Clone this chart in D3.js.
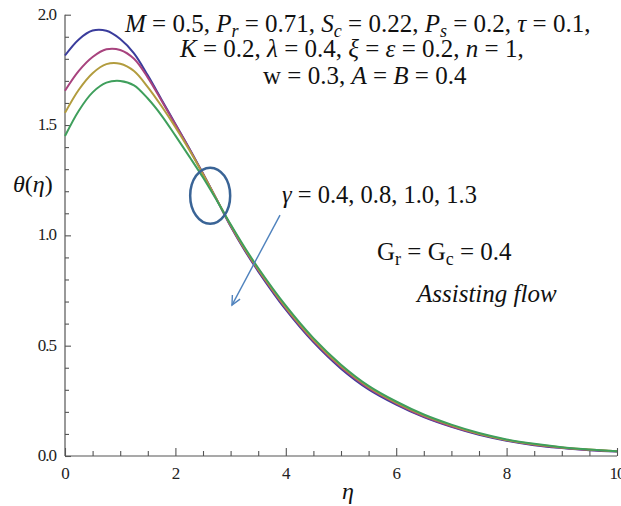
<!DOCTYPE html>
<html lang="en">
	<head>
		<meta charset="utf-8">
		<title>Temperature profile</title>
		<script type="text/javascript" src="https://cdn.jsdelivr.net/npm/d3@7"></script>
		<style type="text/css">
			body{
				margin: 0;
				background: white;
			}
			.tick-label{
				font-family: "Liberation Serif", serif;
				font-size: 17px;
				letter-spacing: -1px;
				fill: #222;
			}
			.math{
				font-family: "Liberation Serif", serif;
				font-size: 21px;
				fill: #111;
			}
		</style>
	</head>
	<body>
		<div class="chart">
		</div>
		<script type="text/javascript">

			// eta grid and theta(eta) for each gamma
			var eta = [0, 0.25, 0.5, 0.75, 1, 1.25, 1.5, 1.75, 2, 2.25, 2.5, 2.75, 3, 3.25, 3.5, 4, 4.5, 5, 5.5, 6, 6.5, 7, 7.5, 8, 8.5, 9, 9.5, 10];
			var thetaG04 = [1.815, 1.888, 1.928, 1.927, 1.890, 1.825, 1.725, 1.615, 1.505, 1.395, 1.280, 1.162, 1.041, 0.934, 0.837, 0.663, 0.516, 0.396, 0.302, 0.233, 0.176, 0.132, 0.096, 0.069, 0.049, 0.036, 0.026, 0.020];
			var thetaG08 = [1.655, 1.745, 1.808, 1.843, 1.840, 1.800, 1.715, 1.610, 1.502, 1.393, 1.279, 1.162, 1.043, 0.938, 0.842, 0.669, 0.522, 0.402, 0.307, 0.238, 0.180, 0.135, 0.099, 0.071, 0.051, 0.037, 0.027, 0.021];
			var thetaG10 = [1.555, 1.660, 1.735, 1.776, 1.778, 1.745, 1.672, 1.585, 1.490, 1.388, 1.277, 1.162, 1.047, 0.942, 0.847, 0.675, 0.528, 0.408, 0.313, 0.242, 0.184, 0.139, 0.101, 0.073, 0.053, 0.039, 0.029, 0.021];
			var thetaG13 = [1.450, 1.565, 1.648, 1.692, 1.700, 1.680, 1.620, 1.543, 1.452, 1.358, 1.262, 1.158, 1.050, 0.947, 0.852, 0.681, 0.534, 0.414, 0.318, 0.247, 0.188, 0.142, 0.104, 0.075, 0.055, 0.040, 0.030, 0.022];
			var gammas = ["0.4", "0.8", "1.0", "1.3"];
			var lineColors = ["#3a3c9c", "#a8437e", "#b29c3e", "#3f9f5c"];

			var xTicks = [0, 2, 4, 6, 8, 10];
			var yTicks = [0, 0.5, 1, 1.5, 2];

			var w = 621;
			var h = 506;
			var plotLeft = 65, plotRight = 617, plotTop = 14.7, plotBottom = 456;

			var svg = d3.select("div.chart")
						.append("svg")
						.attr("width", w)
						.attr("height", h);

			var xScale = d3.scaleLinear().domain([0, 10]).range([plotLeft, plotRight]);
			var yScale = d3.scaleLinear().domain([0, 2]).range([plotBottom, plotTop]);

			var series = [thetaG04, thetaG08, thetaG10, thetaG13];

			var line = d3.line()
						.x((d, i) => xScale(eta[i]))
						.y((d) => yScale(d))
						.curve(d3.curveCatmullRom.alpha(0.5));

			// axes: ticks point inward, no top/right frame
			var axisColor = "#555";

			var xAxis = d3.axisBottom(xScale)
						.tickValues(d3.range(0, 10.01, 0.5))
						.tickSize(-5)
						.tickFormat("");
			var gx = svg.append("g")
				.attr("transform", "translate(0," + plotBottom + ")")
				.call(xAxis);
			gx.selectAll(".tick line").filter((d) => xTicks.indexOf(d) >= 0).attr("y2", -8);

			var yAxis = d3.axisLeft(yScale)
						.tickValues(d3.range(0, 2.001, 0.1))
						.tickSize(-4)
						.tickFormat("");
			var gy = svg.append("g")
				.attr("transform", "translate(" + plotLeft + ",0)")
				.call(yAxis);
			gy.selectAll(".tick line").filter((d) => Math.abs(d * 2 - Math.round(d * 2)) < 1e-6).attr("x2", 6);

			svg.selectAll(".domain").attr("stroke", axisColor).attr("stroke-width", 1.2);
			svg.selectAll(".tick line").attr("stroke", axisColor).attr("stroke-width", 1.1);
			gx.select(".domain").attr("d", "M" + plotLeft + ",0H" + plotRight);
			gy.select(".domain").attr("d", "M0," + yScale(2) + "V" + plotBottom);

			svg.selectAll("path.curve")
				.data(series)
				.enter()
				.append("path")
				.attr("class", "curve")
				.attr("d", (d) => line(d))
				.attr("fill", "none")
				.attr("stroke", (d, i) => lineColors[i])
				.attr("stroke-width", 2);

			svg.selectAll("text.xt")
				.data(xTicks)
				.enter()
				.append("text")
				.attr("class", "tick-label")
				.attr("x", (d) => xScale(d))
				.attr("y", 479)
				.attr("text-anchor", "middle")
				.text((d) => d);

			svg.selectAll("text.yt")
				.data(yTicks)
				.enter()
				.append("text")
				.attr("class", "tick-label")
				.attr("x", 56)
				.attr("y", (d) => yScale(d) + 5)
				.attr("text-anchor", "end")
				.text((d) => d.toFixed(1));

			// axis titles
			var yl = svg.append("text").attr("class", "math").attr("x", 13).attr("y", 192).style("font-size", "24px");
			yl.append("tspan").style("font-style", "italic").text("θ");
			yl.append("tspan").text("(");
			yl.append("tspan").style("font-style", "italic").text("η");
			yl.append("tspan").text(")");

			svg.append("text").attr("class", "math")
				.attr("x", 348).attr("y", 499)
				.attr("text-anchor", "middle")
				.style("font-style", "italic")
				.style("font-size", "24px")
				.text("η");

			// annotation built from parts [text, italic, subscript]; font size fitted to the width
			function mathText(x, y, len, parts){
				var t = svg.append("text").attr("class", "math")
					.attr("x", x).attr("y", y);
				var shift = 0;
				parts.forEach(function(p){
					var s = t.append("tspan").text(p[0]);
					if(p[1]) s.style("font-style", "italic");
					var want = p[2] ? 5 : 0;
					if(want !== shift){ s.attr("dy", want - shift); shift = want; }
					if(p[2]) s.attr("class", "sub");
				});
				var base = 21;
				var natural = t.node().getComputedTextLength();
				var fs = Math.min(25, base * len / natural);
				t.style("font-size", fs + "px");
				t.selectAll("tspan.sub").style("font-size", (fs * 0.72) + "px");
				return t;
			}

			mathText(125, 32, 475, [
				["M", 1], [" = 0.5, "], ["P", 1], ["r", 1, 1], [" = 0.71, "], ["S", 1], ["c", 1, 1],
				[" = 0.22, "], ["P", 1], ["s", 1, 1], [" = 0.2, "], ["τ", 1], [" = 0.1,"]
			]);
			mathText(180, 57, 370, [
				["K", 1], [" = 0.2, "], ["λ", 1], [" = 0.4,  "], ["ξ", 1], [" = "], ["ε", 1], [" = 0.2, "], ["n", 1], [" = 1,"]
			]);
			mathText(263, 84, 214, [
				["w = 0.3, "], ["A", 1], [" = "], ["B", 1], [" = 0.4"]
			]);
			mathText(282, 203, 195, [
				["γ", 1], [" = " + gammas.join(", ")]
			]);
			mathText(377, 260, 143, [
				["G"], ["r", 0, 1], [" = G"], ["c", 0, 1], [" = 0.4"]
			]);
			mathText(417, 302, 156, [
				["Assisting flow", 1]
			]);

			// ellipse marking the crossing and the arrow showing increasing gamma
			var noteColor = "#3a6496";
			svg.append("ellipse")
				.attr("cx", xScale(2.63))
				.attr("cy", yScale(1.18))
				.attr("rx", 20)
				.attr("ry", 28)
				.attr("fill", "none")
				.attr("stroke", noteColor)
				.attr("stroke-width", 2.5);

			var ax1 = xScale(3.895), ay1 = yScale(1.092), ax2 = xScale(3.025), ay2 = yScale(0.684);
			svg.append("line")
				.attr("x1", ax1).attr("y1", ay1)
				.attr("x2", ax2).attr("y2", ay2)
				.attr("stroke", "#4f82bd")
				.attr("stroke-width", 1.4);
			var ang = Math.atan2(ay1 - ay2, ax1 - ax2);
			var head = [ang - 0.45, ang + 0.45].map((a) => [ax2 + 10 * Math.cos(a), ay2 + 10 * Math.sin(a)]);
			svg.append("path")
				.attr("d", "M" + head[0] + "L" + ax2 + "," + ay2 + "L" + head[1])
				.attr("fill", "none")
				.attr("stroke", "#4f82bd")
				.attr("stroke-width", 1.4);

		</script>
	</body>
</html>
